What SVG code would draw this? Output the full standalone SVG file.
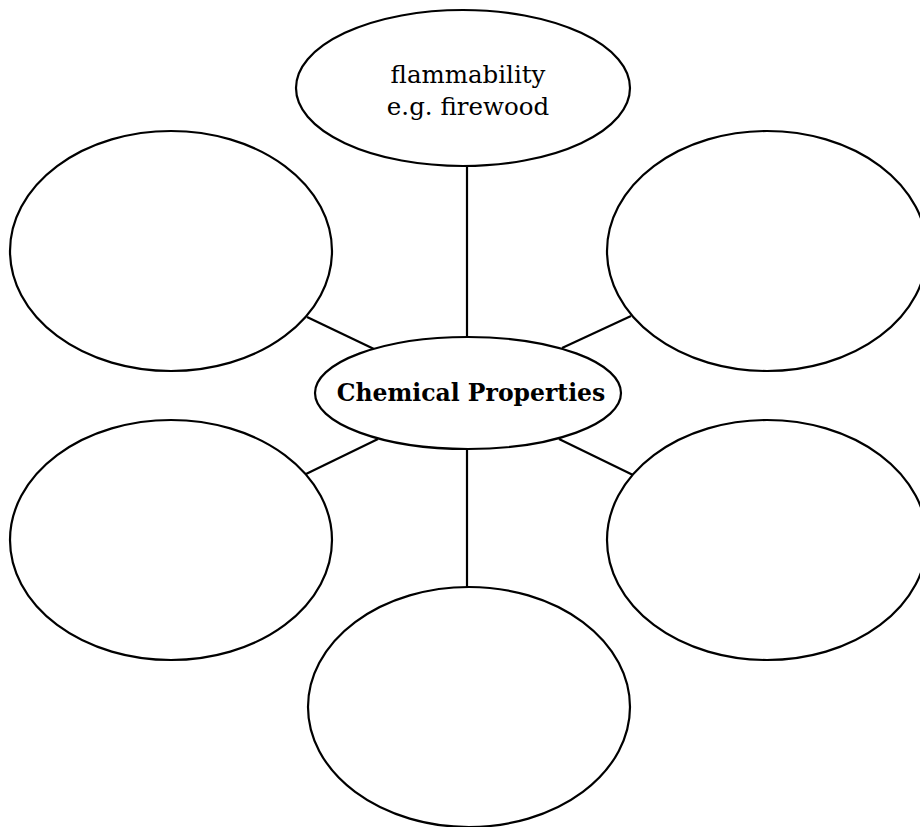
<svg xmlns="http://www.w3.org/2000/svg" width="920" height="827" viewBox="0 0 920 827">
  <style>
    .bubble { fill: #ffffff; stroke: #000000; stroke-width: 2.2; }
    .link { stroke: #000000; stroke-width: 2.2; fill: none; }
    .label { font-family: "DejaVu Serif", "Liberation Serif", serif; fill: #000000; text-anchor: middle; }
    .hub { font-family: "DejaVu Serif", "Liberation Serif", serif; font-weight: bold; fill: #000000; text-anchor: middle; }
  </style>
  <rect width="920" height="827" fill="#ffffff"/>

  <!-- spokes from the hub to each bubble -->
  <g id="connectors">
    <line class="link" x1="467" y1="166" x2="467" y2="338"/>
    <line class="link" x1="307" y1="317" x2="374" y2="349"/>
    <line class="link" x1="562" y1="348" x2="631" y2="316"/>
    <line class="link" x1="306" y1="474" x2="378" y2="439"/>
    <line class="link" x1="559" y1="439" x2="633" y2="475"/>
    <line class="link" x1="467" y1="449" x2="467" y2="588"/>
  </g>

  <g id="node-flammability">
    <ellipse class="bubble" cx="463" cy="88" rx="167" ry="78"/>
    <text class="label" x="468" y="83" font-size="24.5">flammability</text>
    <text class="label" x="468" y="115" font-size="24.5">e.g. firewood</text>
  </g>

  <g id="node-top-left">
    <ellipse class="bubble" cx="171" cy="251" rx="161" ry="120"/>
  </g>

  <g id="node-top-right">
    <ellipse class="bubble" cx="767" cy="251" rx="160" ry="120"/>
  </g>

  <g id="node-bottom-left">
    <ellipse class="bubble" cx="171" cy="540" rx="161" ry="120"/>
  </g>

  <g id="node-bottom-right">
    <ellipse class="bubble" cx="767" cy="540" rx="160" ry="120"/>
  </g>

  <g id="node-bottom">
    <ellipse class="bubble" cx="469" cy="707" rx="161" ry="120"/>
  </g>

  <g id="node-chemical-properties">
    <ellipse class="bubble" cx="468" cy="393" rx="153" ry="56"/>
    <text class="hub" x="471" y="401" font-size="23.5">Chemical Properties</text>
  </g>
</svg>
